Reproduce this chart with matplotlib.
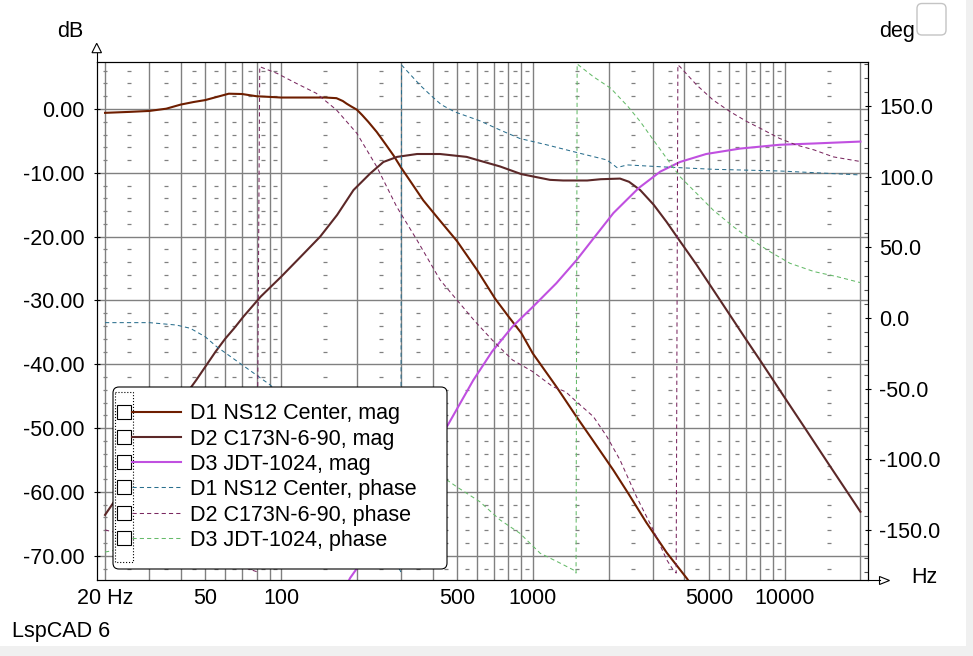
import numpy as np
import matplotlib
matplotlib.use('Agg')
import matplotlib.pyplot as plt
from matplotlib.patches import FancyBboxPatch, Rectangle, Polygon
from matplotlib.lines import Line2D
from matplotlib.transforms import Affine2D
from matplotlib.ticker import FixedLocator, NullFormatter, MultipleLocator

plt.rcParams['font.family'] = ['Liberation Sans', 'DejaVu Sans']

W, H = 973, 656
FS = 15.5

# ---- data ----
d1_mag_hz = [20, 25, 30, 35, 40, 45, 50, 62, 70, 80, 90, 100, 120, 150, 166, 176, 182, 190, 200, 210, 222,
             240, 260, 280, 300, 330, 367, 428, 500, 600, 708, 800, 900, 1000, 1240, 1490, 1710, 2090, 2400,
             2825, 3400, 4100, 4400]
d1_mag_db = [-0.6, -0.45, -0.3, 0.05, 0.7, 1.1, 1.4, 2.4, 2.35, 2.0, 1.9, 1.8, 1.8, 1.8, 1.7, 1.25, 0.85, 0.4, -0.1,
             -0.95, -2.0, -3.6, -5.5, -7.3, -9.2, -11.6, -14.3, -17.5, -20.7, -25.2, -29.7, -32.5, -35.1, -38.3,
             -43.5, -48.2, -51.6, -56.6, -60.3, -64.8, -69.5, -73.6, -75.5]

d2_mag_hz = [20, 25, 30, 38, 46, 55, 60, 65, 71, 83, 100, 120, 143, 167, 194, 226, 255, 289, 347, 428, 546,
             616, 741, 900, 1170, 1320, 1645, 1860, 2220, 2410, 2670, 3020, 3400, 3840, 4470, 5200, 6260,
             7000, 8000, 10000, 12000, 15000, 20000]
d2_mag_db = [-63.6, -58.0, -53.0, -47.0, -42.5, -38.0, -36.0, -34.4, -32.5, -29.4, -26.3, -23.1, -20.0, -16.6, -12.7,
             -10.1, -8.3, -7.5, -7.05, -7.05, -7.5, -8.1, -9.0, -10.2, -11.1, -11.2, -11.2, -11.0, -10.9, -11.4,
             -12.7, -15.0, -17.7, -20.7, -24.4, -28.3, -33.1, -36.0, -39.4, -45.2, -49.9, -55.7, -63.1]

d3_mag_hz = [180, 188, 200, 300, 460, 580, 689, 830, 1000, 1240, 1490, 1740, 2090, 2630, 3210, 3840, 4880,
             6650, 9560, 13100, 20000]
d3_mag_db = [-75.0, -73.5, -72.0, -61.0, -49.5, -42.5, -38.0, -34.1, -31.0, -27.3, -23.7, -20.3, -16.3, -12.4, -9.8,
             -8.3, -7.05, -6.2, -5.6, -5.4, -5.1]

d1_ph_hz = [20, 30, 38.4, 43.6, 49.9, 55.5, 68.6, 90.6, 100, 130, 170, 220, 270, 299, 301, 333, 360, 393, 433,
            490, 616, 741, 888, 1130, 1540, 1970, 2160, 2370, 3210, 5200, 9560, 20000]
d1_ph_deg = [-3.3, -3.3, -5.0, -7.3, -13.2, -20.3, -32.0, -47.4, -55.0, -80.0, -110.0, -140.0, -165.0, -179.5, 179.0,
             170.5, 164.0, 157.6, 150.9, 145.8, 139.5, 133.0, 127.0, 122.6, 116.5, 111.8, 106.4, 108.3, 107.0, 105.2,
             104.0, 101.2]

d2_ph_hz = [20, 25, 35, 50, 65, 80, 82.3, 96.6, 115, 138, 166, 200, 240, 288, 347, 428, 498, 590, 690, 830,
            1000, 1200, 1350, 1490, 1740, 1970, 2220, 2580, 3010, 3400, 3600, 3710, 3768, 3840, 4470, 5200,
            6070, 7080, 8250, 9560, 11130, 13100, 15600, 20000]
d2_ph_deg = [-150.0, -154.0, -161.0, -168.0, -174.0, -179.5, 177.8, 173.0, 166.0, 159.0, 147.2, 130.7, 107.0, 78.7,
             55.0, 27.0, 13.0, -2.5, -15.6, -29.7, -38.0, -48.6, -52.2, -59.2, -69.8, -84.0, -100.5, -126.4, -150.0,
             -171.0, -178.0, -180.5, 179.0, 177.8, 164.9, 154.2, 146.0, 139.0, 133.0, 127.0, 122.4, 118.9, 114.0,
             110.7]

d3_ph_hz = [20, 30, 60, 120, 250, 400, 456, 498, 616, 741, 888, 1070, 1250, 1450, 1485, 1500, 1740, 2040,
            2390, 2670, 3010, 3400, 3840, 4470, 5200, 6260, 7080, 8750, 10500, 13100, 16200, 20000]
d3_ph_deg = [-165.6, -160.0, -150.0, -138.0, -122.0, -113.0, -114.6, -119.4, -130.0, -142.9, -152.3, -166.5, -172.4,
             -178.3, -180.5, 179.7, 170.7, 162.5, 149.5, 139.0, 126.0, 113.0, 100.0, 88.2, 76.4, 64.6, 57.5, 46.9,
             38.7, 32.8, 29.2, 25.0]

series = [
    ('D1 NS12 Center, mag', d1_mag_hz, d1_mag_db, '#6e1e00', '-', 1.5, 'mag'),
    ('D2 C173N-6-90, mag', d2_mag_hz, d2_mag_db, '#5c2828', '-', 1.5, 'mag'),
    ('D3 JDT-1024, mag', d3_mag_hz, d3_mag_db, '#c050e0', '-', 1.5, 'mag'),
    ('D1 NS12 Center, phase', d1_ph_hz, d1_ph_deg, '#2a6f8e', (0, (4, 3)), 0.75, 'phase'),
    ('D2 C173N-6-90, phase', d2_ph_hz, d2_ph_deg, '#7a2860', (0, (4, 3)), 0.75, 'phase'),
    ('D3 JDT-1024, phase', d3_ph_hz, d3_ph_deg, '#66bb6a', (0, (4, 3)), 0.75, 'phase'),
]

grid_hz = [20, 30, 40, 50, 60, 70, 80, 90, 100, 200, 300, 400, 500, 600, 700, 800, 900,
           1000, 2000, 3000, 4000, 5000, 6000, 7000, 8000, 9000, 10000, 20000]
label_hz = [20, 50, 100, 500, 1000, 5000, 10000]
label_txt = ['20 Hz', '50', '100', '500', '1000', '5000', '10000']
db_ticks = [0, -10, -20, -30, -40, -50, -60, -70]
deg_ticks = [150, 100, 50, 0, -50, -100, -150]

# ---- figure ----
fig = plt.figure(figsize=(W / 100, H / 100), dpi=100, facecolor='#f0f0f0')
tr = Affine2D().scale(1 / 100, -1 / 100).translate(0, H / 100) + fig.dpi_scale_trans  # pixel coords, y down

fig.add_artist(Rectangle((0, 0), 966, 646, transform=tr, facecolor='white', edgecolor='none', zorder=-10))

L, R, T, B = 96.7, 868.5, 62.3, 580.0
ax = fig.add_axes([L / W, 1 - B / H, (R - L) / W, (B - T) / H])
ax.set_xscale('log')
ax.set_xlim(18.53, 21540)
ax.set_ylim(-73.8, 7.32)

ax.xaxis.set_major_locator(FixedLocator(label_hz))
ax.xaxis.set_minor_locator(FixedLocator([f for f in grid_hz if f not in label_hz]))
ax.xaxis.set_minor_formatter(NullFormatter())
ax.set_xticklabels(label_txt)
ax.set_yticks(db_ticks)
ax.set_yticklabels([f'{v:.2f}' for v in db_ticks])
ax.grid(which='both', axis='x', color='#808080', lw=1.0)
ax.grid(which='major', axis='y', color='#808080', lw=1.0)
ax.tick_params(axis='x', which='both', length=0, pad=6, labelsize=FS)
ax.tick_params(axis='y', which='major', direction='inout', length=5, width=0.8, pad=6, labelsize=FS)
for s in ax.spines.values():
    s.set_color('black')
    s.set_linewidth(0.8)

# short minor dashes half way between grid lines, every 2 dB
mid_hz = [20] + [(a + b) / 2 for a, b in zip(grid_hz[:-1], grid_hz[1:])]
mid_db = [v for v in range(-72, 7, 2) if v % 10 != 0]
mx, my = np.meshgrid(mid_hz, mid_db)
ax.plot(mx.ravel(), my.ravel(), ls='none', marker='_', ms=3, mew=0.9, color='#808080', zorder=1)

ax2 = ax.twinx()
ax2.set_ylim(-185.4, 180.9)
ax2.set_yticks(deg_ticks)
ax2.set_yticklabels([f'{v:.1f}' for v in deg_ticks])
ax2.yaxis.set_minor_locator(MultipleLocator(10))
ax2.tick_params(axis='y', which='major', direction='inout', length=5, width=0.8, pad=5, labelsize=FS)
ax2.tick_params(axis='y', which='minor', direction='in', length=3, width=0.8, color='#505050')
for s in ax2.spines.values():
    s.set_color('black')
    s.set_linewidth(0.8)

for name, f, v, c, ls, lw, kind in series:
    target = ax if kind == 'mag' else ax2
    target.plot(f, v, color=c, ls=ls, lw=lw, zorder=3)

# axis arrows
fig.add_artist(Line2D([L, L], [T, 53], transform=tr, color='black', lw=0.8))
fig.add_artist(Polygon([(92, 52.7), (101.5, 52.7), (96.7, 43.3)], closed=True, transform=tr,
                       facecolor='white', edgecolor='black', lw=0.8))
fig.add_artist(Line2D([R, 879.5], [B, B], transform=tr, color='black', lw=0.8))
fig.add_artist(Polygon([(879.5, 576.5), (879.5, 584.5), (889.5, 580.5)], closed=True, transform=tr,
                       facecolor='white', edgecolor='black', lw=0.8))

# legend box
fig.add_artist(FancyBboxPatch((113, 387), 334, 182, boxstyle='round,pad=0,rounding_size=6', transform=tr,
                              facecolor='white', edgecolor='black', lw=0.8, zorder=5))
fig.add_artist(Rectangle((114.5, 392), 18, 170, transform=tr, fill=False, edgecolor='black', ls=':', lw=0.8,
                         zorder=6))
for i, (name, f, v, c, ls, lw, kind) in enumerate(series):
    yc = 411.5 + i * 25.3
    fig.add_artist(Rectangle((116.5, yc - 7), 14, 14, transform=tr, facecolor='white', edgecolor='black',
                             lw=0.8, zorder=6))
    fig.add_artist(Line2D([131.5, 181], [yc, yc], transform=tr, color=c, ls=ls, lw=lw, zorder=6))
    fig.text(190, yc, name, transform=tr, fontsize=FS, va='center_baseline', ha='left', zorder=7)

# labels
fig.text(70, 37, 'dB', transform=tr, fontsize=FS, ha='center', va='baseline')
fig.text(879, 37, 'deg', transform=tr, fontsize=FS, ha='left', va='baseline')
fig.text(911, 583, 'Hz', transform=tr, fontsize=FS, ha='left', va='baseline')
fig.text(12, 637, 'LspCAD 6', transform=tr, fontsize=FS, ha='left', va='baseline')

fig.add_artist(FancyBboxPatch((917, 3.5), 29, 31.5, boxstyle='round,pad=0,rounding_size=5', transform=tr,
                              facecolor='white', edgecolor='#c4c4c4', lw=1.0))

fig.savefig('out.png', dpi=100, facecolor=fig.get_facecolor())
